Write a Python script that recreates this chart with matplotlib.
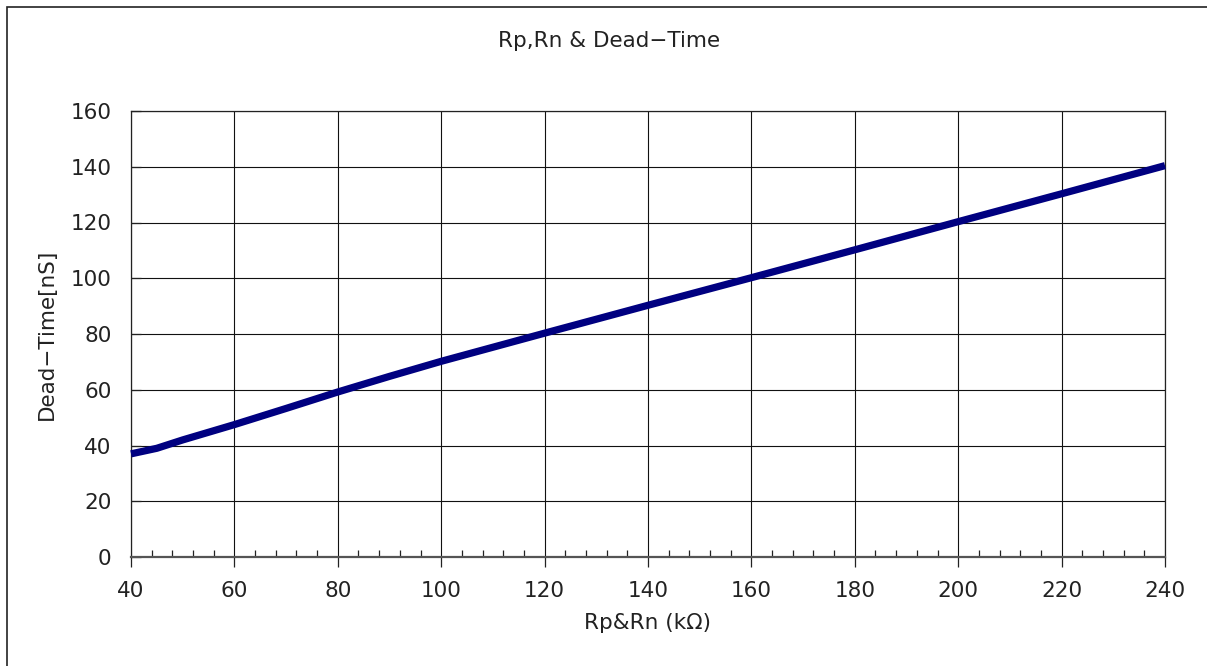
"""Rp,Rn vs dead-time curve."""
import matplotlib
matplotlib.use("Agg")
import matplotlib.pyplot as plt
from matplotlib.patches import Rectangle
from matplotlib.ticker import MultipleLocator

plt.rcParams["font.family"] = ["DejaVu Sans"]

r_kohm = [40, 45, 50, 60, 70, 80, 90, 100, 120, 140, 160, 180, 200, 220, 240]
dead_ns = [37, 39, 42, 47.5, 53.3, 59.2, 64.8, 70.2, 80.3, 90.3, 100.2, 110.2, 120.3, 130.3, 140.4]
x_ticks = list(range(40, 241, 20))
y_ticks = list(range(0, 161, 20))

fig = plt.figure(figsize=(12.07, 6.66), dpi=100)
ax = fig.add_axes([131 / 1207, 1 - 557 / 666, (1165 - 131) / 1207, (557 - 111) / 666])

# outer frame (only left/top edges fall inside the image)
fig.patches.append(Rectangle((7 / 1207, -0.1), 1.2, 1 - 7 / 666 + 0.1,
                             transform=fig.transFigure, fill=False,
                             edgecolor="#222222", lw=1.2))

ax.plot(r_kohm, dead_ns, color="#000080", lw=5.2, solid_capstyle="butt",
        solid_joinstyle="round", clip_on=False, zorder=3)

ax.set_xlim(40, 240)
ax.set_ylim(0, 160)
ax.set_xticks(x_ticks)
ax.set_yticks(y_ticks)
ax.xaxis.set_minor_locator(MultipleLocator(4))
ax.grid(True, which="major", color="#111111", lw=0.8)
ax.tick_params(axis="x", which="major", direction="out", length=7, width=0.9,
               labelsize=15.5, pad=10, colors="#222222")
ax.tick_params(axis="x", which="minor", direction="in", length=5, width=0.9,
               colors="#222222")
ax.tick_params(axis="y", which="major", direction="in", length=7, width=0.9,
               labelsize=15.5, pad=14, colors="#222222")
for s in ax.spines.values():
    s.set_color("#222222")
    s.set_linewidth(0.9)
ax.spines["bottom"].set_color("#555555")
ax.spines["bottom"].set_linewidth(1.6)

ax.set_xlabel("Rp&Rn (kΩ)", fontsize=15.5, color="#222222", labelpad=9)
ax.set_ylabel("Dead\u2212Time[nS]", fontsize=15.5, color="#222222", labelpad=10)
fig.text(609 / 1207, 1 - 41 / 666, "Rp,Rn & Dead\u2212Time", ha="center", va="center",
         fontsize=15.5, color="#222222")

fig.savefig("out.png", dpi=100)
